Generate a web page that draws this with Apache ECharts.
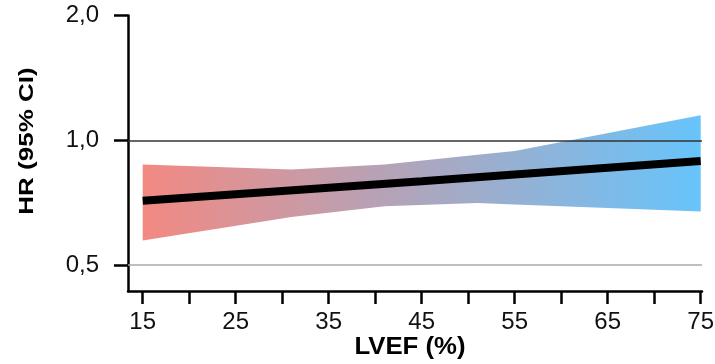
<!DOCTYPE html>
<html>
<head>
<meta charset="utf-8">
<script src="https://cdn.jsdelivr.net/npm/echarts@6/dist/echarts.min.js"></script>
<style>
html,body{margin:0;padding:0;background:#fff;}
#chart{width:715px;height:364px;}
</style>
</head>
<body>
<div id="chart"></div>
<script>
// ---- data ----
const lvefBand = [15, 31, 41, 51, 55, 75];
const hrUpper  = [0.874, 0.850, 0.874, 0.923, 0.942, 1.150];
const hrLower  = [0.573, 0.653, 0.693, 0.706, 0.700, 0.674];
const lvefLine = [15, 45, 75];
const hrLine   = [0.715, 0.797, 0.891];
const yTickValues = [0.5, 1.0, 2.0];
const xTickValues = [15, 20, 25, 30, 35, 40, 45, 50, 55, 60, 65, 70, 75];
const xLabelValues = [15, 25, 35, 45, 55, 65, 75];
const refLines = [1.0, 0.5];
const yTitle = 'HR (95% CI)';
const xTitle = 'LVEF (%)';

const FONT = 'Liberation Sans, Arial, Helvetica, sans-serif';
const lg = v => Math.log2(v);

const chart = echarts.init(document.getElementById('chart'), null, {renderer: 'canvas'});

const bandData = lvefBand.map((x, i) => [x, lg(hrLower[i]), lg(hrUpper[i])]);
const lineData = lvefLine.map((x, i) => [x, lg(hrLine[i])]);

function renderBand(params, api) {
  if (params.dataIndex !== 0) return null;
  const upper = bandData.map(d => api.coord([d[0], d[2]]));
  const lower = bandData.slice().reverse().map(d => api.coord([d[0], d[1]]));
  return {
    type: 'polygon',
    shape: {points: upper.concat(lower)},
    style: {
      fill: new echarts.graphic.LinearGradient(0, 0, 1, 0, [
        {offset: 0, color: '#F28982'},
        {offset: 1, color: '#67C4FB'}
      ]),
      stroke: null
    },
    silent: true
  };
}

const option = {
  animation: false,
  backgroundColor: '#fff',
  grid: {left: 128, right: 13, top: 15.5, bottom: 73, containLabel: false, outerBoundsMode: 'none'},
  xAxis: {
    type: 'value', min: 13.42, max: 75.14,
    axisLine: {show: true, onZero: false, lineStyle: {color: '#000', width: 2.5}},
    axisTick: {show: true, length: 13, lineStyle: {color: '#000', width: 2.5}, customValues: xTickValues},
    axisLabel: {show: true, customValues: xLabelValues, fontSize: 24, color: '#111', fontFamily: FONT, margin: 19},
    splitLine: {show: false}
  },
  yAxis: {
    type: 'value', min: -1.207, max: 1,
    axisLine: {show: true, onZero: false, lineStyle: {color: '#000', width: 2.5}},
    axisTick: {show: true, length: 14, lineStyle: {color: '#000', width: 2.5}, customValues: yTickValues.map(lg)},
    axisLabel: {show: true, customValues: yTickValues.map(lg), fontSize: 24, color: '#111', fontFamily: FONT, margin: 29,
      formatter: v => Math.pow(2, v).toFixed(1).replace('.', ',')},
    splitLine: {show: false}
  },
  graphic: [
    {type: 'text', x: 27.5, y: 141, rotation: Math.PI / 2, scaleX: 1.3, z: 10,
      style: {text: yTitle, font: 'bold 20px ' + FONT, fill: '#000', textAlign: 'center', textVerticalAlign: 'middle'}},
    {type: 'text', x: 410, y: 348, scaleX: 1.12, z: 10,
      style: {text: xTitle, font: 'bold 23px ' + FONT, fill: '#000', textAlign: 'center', textVerticalAlign: 'middle'}}
  ],
  series: [
    {
      type: 'custom', data: bandData, renderItem: renderBand, z: 1, silent: true,
      encode: {x: 0, y: [1, 2]}
    },
    {
      type: 'line', data: lineData, symbol: 'none', z: 3,
      lineStyle: {color: '#000', width: 8, cap: 'butt'},
      markLine: {
        silent: true, symbol: 'none', label: {show: false},
        data: [
          {yAxis: lg(refLines[0]), lineStyle: {color: '#333', width: 1.5, type: 'solid'}},
          {yAxis: lg(refLines[1]), lineStyle: {color: '#aaa', width: 1.5, type: 'solid'}}
        ]
      }
    }
  ]
};
chart.setOption(option);
</script>
</body>
</html>
